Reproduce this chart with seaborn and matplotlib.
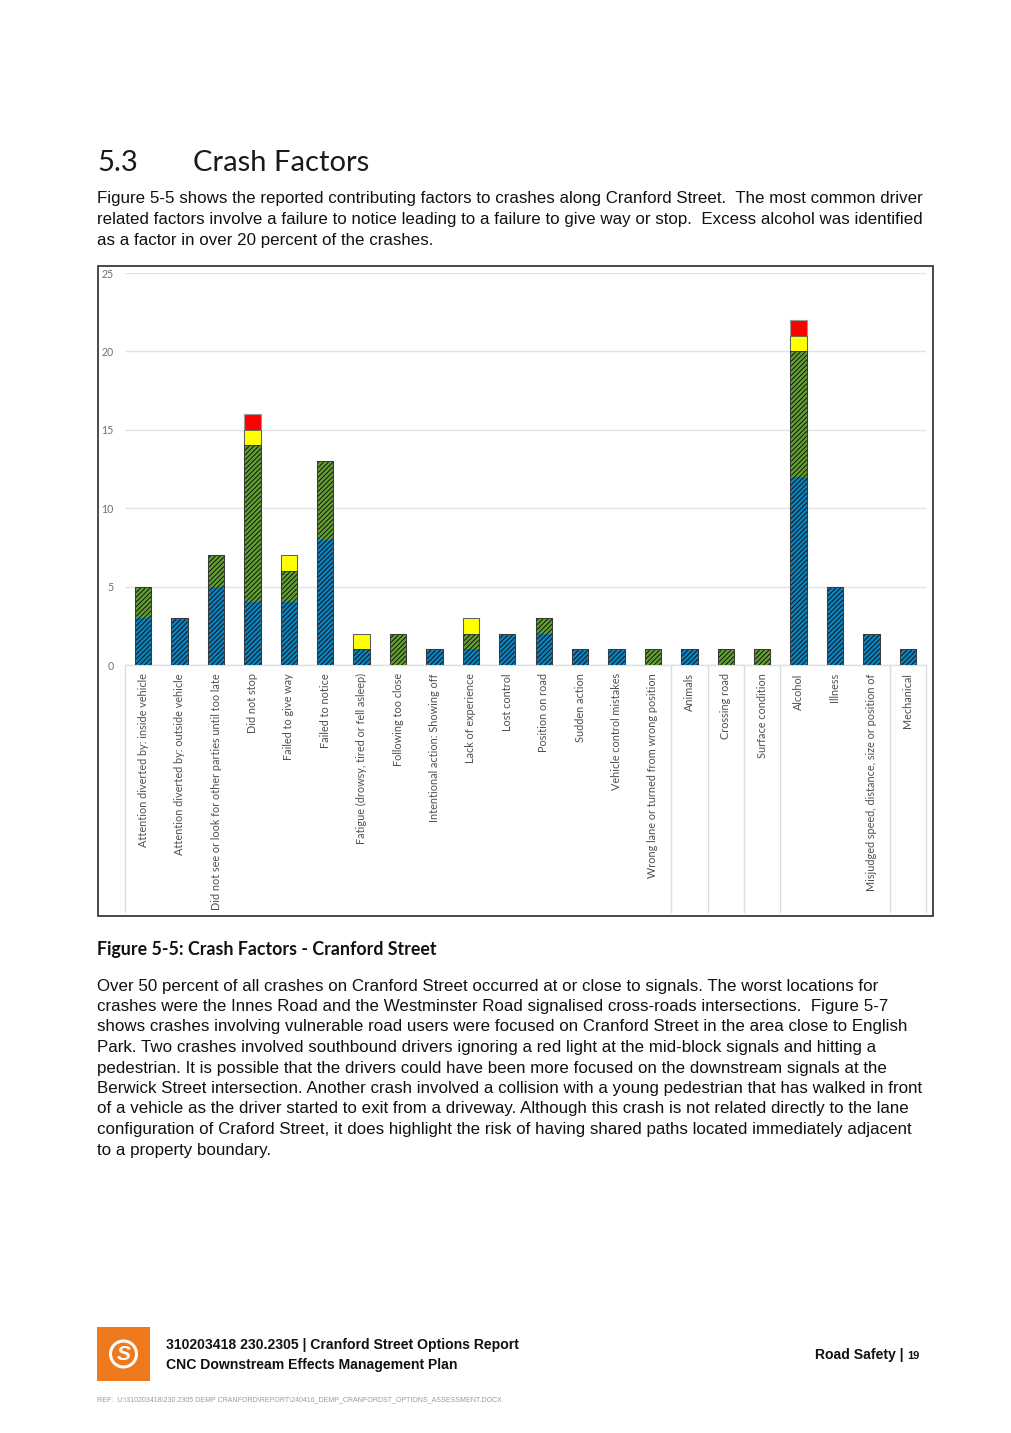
import matplotlib
matplotlib.use("Agg")
import matplotlib.pyplot as plt
import matplotlib.patches as mpatches
import matplotlib.transforms as mtransforms
import seaborn as sns
import pandas as pd
import numpy as np

# ---------------- data ----------------
factors = [
    "Attention diverted by: inside vehicle",
    "Attention diverted by: outside vehicle",
    "Did not see or look for other parties until too late",
    "Did not stop",
    "Failed to give way",
    "Failed to notice",
    "Fatigue (drowsy, tired or fell asleep)",
    "Following too close",
    "Intentional action: Showing off",
    "Lack of experience",
    "Lost control",
    "Position on road",
    "Sudden action",
    "Vehicle control mistakes",
    "Wrong lane or turned from wrong position",
    "Animals",
    "Crossing road",
    "Surface condition",
    "Alcohol",
    "Illness",
    "Misjudged speed, distance, size or position of",
    "Mechanical",
]
blue_vals   = [3, 3, 5, 4, 4, 8, 1, 0, 1, 1, 2, 2, 1, 1, 0, 1, 0, 0, 12, 5, 2, 1]
green_vals  = [2, 0, 2, 10, 2, 5, 0, 2, 0, 1, 0, 1, 0, 0, 1, 0, 1, 1, 8, 0, 0, 0]
yellow_vals = [0, 0, 0, 1, 1, 0, 1, 0, 0, 1, 0, 0, 0, 0, 0, 0, 0, 0, 1, 0, 0, 0]
red_vals    = [0, 0, 0, 1, 0, 0, 0, 0, 0, 0, 0, 0, 0, 0, 0, 0, 0, 0, 1, 0, 0, 0]
y_ticks = [0, 5, 10, 15, 20, 25]
group_bounds = [-0.5, 14.5, 15.5, 16.5, 17.5, 20.5, 21.5]

heading_num = "5.3"
heading_txt = "Crash Factors"
para1 = [
    "Figure 5-5 shows the reported contributing factors to crashes along Cranford Street.  The most common driver",
    "related factors involve a failure to notice leading to a failure to give way or stop.  Excess alcohol was identified",
    "as a factor in over 20 percent of the crashes.",
]
caption = "Figure 5-5: Crash Factors - Cranford Street"
para2 = [
    "Over 50 percent of all crashes on Cranford Street occurred at or close to signals. The worst locations for",
    "crashes were the Innes Road and the Westminster Road signalised cross-roads intersections.  Figure 5-7",
    "shows crashes involving vulnerable road users were focused on Cranford Street in the area close to English",
    "Park. Two crashes involved southbound drivers ignoring a red light at the mid-block signals and hitting a",
    "pedestrian. It is possible that the drivers could have been more focused on the downstream signals at the",
    "Berwick Street intersection. Another crash involved a collision with a young pedestrian that has walked in front",
    "of a vehicle as the driver started to exit from a driveway. Although this crash is not related directly to the lane",
    "configuration of Craford Street, it does highlight the risk of having shared paths located immediately adjacent",
    "to a property boundary.",
]
footer1 = "310203418 230.2305 | Cranford Street Options Report"
footer2 = "CNC Downstream Effects Management Plan"
footer_right = "Road Safety |"
page_no = "19"
ref_line = "REF:  U:\\310203418\\230.2305 DEMP CRANFORD\\REPORT\\240416_DEMP_CRANFORDST_OPTIONS_ASSESSMENT.DOCX"

# ---------------- figure ----------------
sns.set_theme(style="white")
plt.rcParams["font.family"] = ["Liberation Sans", "DejaVu Sans"]
plt.rcParams["hatch.linewidth"] = 0.7

W, H = 1012, 1433
fig = plt.figure(figsize=(W / 100, H / 100), dpi=100)
fig.patch.set_facecolor("white")

def fx(x):
    return x / W

def fy(y):
    return 1 - y / H

# chart frame
fig.patches.append(mpatches.Rectangle((fx(98), fy(916)), fx(933) - fx(98), fy(266) - fy(916),
                                      transform=fig.transFigure, fill=False,
                                      edgecolor="#3a3a3a", linewidth=1.3, zorder=0))

ax = fig.add_axes([fx(125), fy(665), fx(926) - fx(125), fy(273) - fy(665)])
ax.set_facecolor("none")

df = pd.DataFrame({
    "factor": factors,
    "blue": blue_vals,
    "green": green_vals,
    "yellow": yellow_vals,
    "red": red_vals,
})
df["c_blue"] = df["blue"]
df["c_green"] = df["c_blue"] + df["green"]
df["c_yellow"] = df["c_green"] + df["yellow"]
df["c_red"] = df["c_yellow"] + df["red"]

bw = 0.45
common = dict(data=df, x="factor", ax=ax, width=bw, saturation=1, errorbar=None)
# filled layers (tallest first, each shorter cumulative layer on top)
sns.barplot(y="c_red", color="#ff0000", edgecolor="#ff0000", linewidth=0, zorder=3, **common)
sns.barplot(y="c_yellow", color="#ffff00", edgecolor="#ffff00", linewidth=0, zorder=3, **common)
sns.barplot(y="c_green", color="#62a030", edgecolor="#111111", linewidth=0, hatch="///////", zorder=3, **common)
sns.barplot(y="c_blue", color="#0a84c0", edgecolor="#111111", linewidth=0, hatch="///////", zorder=3, **common)
# outlines of each stacked segment boundary
sns.barplot(y="c_red", fill=False, edgecolor="#9a9a9a", linewidth=0.8, zorder=4, **common)
sns.barplot(y="c_yellow", fill=False, edgecolor="#555555", linewidth=0.6, zorder=4, **common)
sns.barplot(y="c_green", fill=False, edgecolor="#333333", linewidth=0.6, zorder=4, **common)

ax.set_xlim(-0.5, len(factors) - 0.5)
ax.set_ylim(0, 25)
ax.set_yticks(y_ticks)
ax.set_yticklabels([str(t) for t in y_ticks])
for t in ax.get_yticklabels():
    t.set_fontfamily(["Lato", "DejaVu Sans"])
    t.set_fontsize(7.6)
    t.set_color("#6f6f6f")
ax.tick_params(axis="y", length=0, pad=8)
ax.tick_params(axis="x", length=0, pad=6)
ax.set_xticks(range(len(factors)))
ax.set_xticklabels(factors, rotation=90, ha="center", va="top",
                   fontsize=7.8, color="#4f4f4f", fontfamily=["Lato", "DejaVu Sans"])
ax.set_xlabel("")
ax.set_ylabel("")
ax.grid(axis="y", color="#e3e3e3", linewidth=1.0, zorder=0)
ax.grid(axis="x", visible=False)
for s in ["top", "right", "left"]:
    ax.spines[s].set_visible(False)
ax.spines["bottom"].set_color("#e0e0e0")
ax.spines["bottom"].set_linewidth(1.0)

# category group separators below the axis
trans = mtransforms.blended_transform_factory(ax.transData, ax.transAxes)
bottom_ax = (fy(912) - fy(665)) / (fy(273) - fy(665))
for b in group_bounds:
    ax.plot([b, b], [0, bottom_ax], transform=trans, color="#dcdcdc",
            linewidth=1.0, clip_on=False, zorder=1)

# ---------------- page text ----------------
head_font = ["Lato", "DejaVu Sans"]
fig.text(fx(97), fy(163), heading_num, fontsize=21, fontfamily=head_font,
         fontweight="normal", va="center", ha="left", color="#1a1a1a")
fig.text(fx(193), fy(163), heading_txt, fontsize=21, fontfamily=head_font,
         fontweight="normal", va="center", ha="left", color="#1a1a1a")

for i, line in enumerate(para1):
    fig.text(fx(97), fy(199 + i * 20.5), line, fontsize=12.15, va="center", ha="left", color="#111111")

fig.text(fx(97), fy(950), caption, fontsize=12.8, fontweight="bold",
         fontfamily=["Lato", "DejaVu Sans"], va="center", ha="left", color="#111111")

for i, line in enumerate(para2):
    fig.text(fx(97), fy(986 + i * 20.5), line, fontsize=12.15, va="center", ha="left", color="#111111")

# footer logo
fig.patches.append(mpatches.Rectangle((fx(97), fy(1381)), fx(150) - fx(97), fy(1327) - fy(1381),
                                      transform=fig.transFigure, facecolor="#ef7a1e",
                                      edgecolor="none", zorder=1))
fig.patches.append(mpatches.Ellipse((fx(123.5), fy(1354)), fx(26), fy(0) - fy(26),
                                    transform=fig.transFigure, facecolor="none",
                                    edgecolor="white", linewidth=2.2, zorder=2))
fig.text(fx(123.5), fy(1354), "S", fontsize=15, color="white", fontweight="bold",
         style="italic", va="center", ha="center", zorder=3)

narrow = ["Liberation Sans Narrow", "Liberation Sans", "DejaVu Sans"]
fig.text(fx(166), fy(1345), footer1, fontsize=10.1, fontweight="bold", fontfamily=narrow,
         va="center", ha="left", color="#111111")
fig.text(fx(166), fy(1365), footer2, fontsize=10.1, fontweight="bold", fontfamily=narrow,
         va="center", ha="left", color="#111111")
fig.text(fx(904), fy(1355), footer_right, fontsize=10.1, fontweight="bold", fontfamily=narrow,
         va="center", ha="right", color="#111111")
fig.text(fx(907), fy(1356), page_no, fontsize=8, fontweight="bold", fontfamily=narrow,
         va="center", ha="left", color="#111111")
fig.text(fx(97), fy(1400), ref_line, fontsize=5.0, fontfamily=narrow,
         va="center", ha="left", color="#9a9a9a")

fig.savefig("out.png", dpi=100, facecolor="white")
